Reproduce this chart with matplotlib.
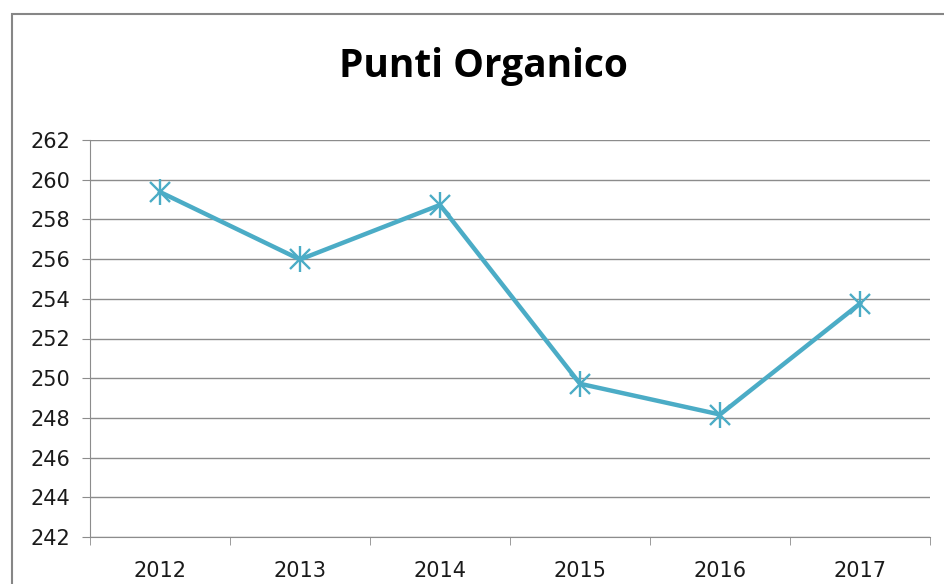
import numpy as np
import matplotlib.pyplot as plt
from matplotlib.patches import Rectangle

years = ['2012', '2013', '2014', '2015', '2016', '2017']
punti = [259.38, 255.98, 258.73, 249.72, 248.17, 253.76]
yticks = list(range(242, 264, 2))

plt.rcParams['font.family'] = ['Liberation Sans Narrow', 'DejaVu Sans']

fig = plt.figure(figsize=(9.44, 5.84), dpi=100)
ax = fig.add_axes([90 / 944, 1 - 537 / 584, 840 / 944, 397 / 584])

# chart border like the Excel frame
fig.patches.append(Rectangle((12 / 944, -0.1), 1.2, 1.1 - 14 / 584,
                             transform=fig.transFigure, fill=False,
                             edgecolor='#868686', linewidth=1.5))

x = np.arange(len(years))
col = '#4BACC6'
ax.plot(x, punti, color=col, linewidth=3.2, zorder=3)
ax.plot(x, punti, linestyle='none', marker='x', markersize=15,
        markeredgewidth=1.7, color=col, zorder=4)
ax.plot(x, punti, linestyle='none', marker='|', markersize=19,
        markeredgewidth=1.7, color=col, zorder=4)

ax.set_xlim(-0.5, len(years) - 0.5)
ax.set_ylim(242, 262)
ax.set_yticks(yticks)
ax.yaxis.grid(True, color='#8c8c8c', linewidth=1)
ax.set_axisbelow(True)

# category labels centred, ticks between categories
ax.set_xticks(x)
ax.set_xticklabels(years)
ax.set_xticks(np.arange(-0.5, len(years)), minor=True)
ax.tick_params(axis='x', which='major', length=0, pad=17, labelsize=15, colors='#1a1a1a')
ax.tick_params(axis='x', which='minor', length=6, color='#8c8c8c', direction='out')
ax.tick_params(axis='y', length=6, color='#8c8c8c', labelsize=15, colors='#1a1a1a', pad=8)

for s in ['top', 'right']:
    ax.spines[s].set_visible(False)
ax.spines['left'].set_color('#8c8c8c')
ax.spines['bottom'].set_color('#8c8c8c')

fig.text(483 / 944, 1 - 66 / 584, 'Punti Organico', ha='center', va='center',
         fontsize=28, fontweight='bold', family=['Open Sans', 'DejaVu Sans'])

fig.savefig('out.png', dpi=100)
